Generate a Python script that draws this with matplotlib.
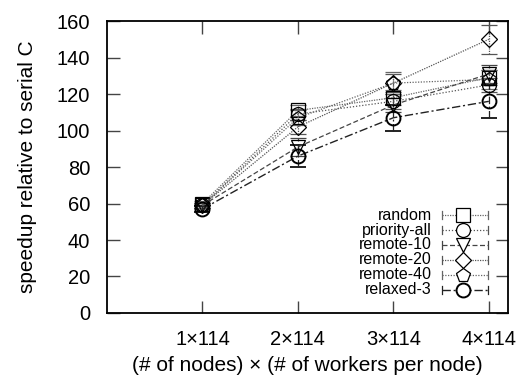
import matplotlib
matplotlib.use("Agg")
import matplotlib.pyplot as plt
import numpy as np

plt.rcParams['font.family'] = ['Liberation Sans', 'DejaVu Sans']

x_pos = [1, 2, 3, 4]
x_labels = ["1×114", "2×114", "3×114", "4×114"]

names = ["random", "priority-all", "remote-10", "remote-20", "remote-40", "relaxed-3"]
random_v = [60, 111, 118, 129]
priority_all = [59, 109, 116, 125]
remote_10 = [59, 91, 114, 131]
remote_20 = [59, 102, 126, 150]
remote_40 = [59, 107, 126, 128]
relaxed_3 = [57, 86, 107, 116]

random_e = [1.5, 3, 4, 4]
priority_all_e = [1.5, 3, 4, 4]
remote_10_e = [1.5, 5, 4, 5]
remote_20_e = [1.5, 4, 5, 8]
remote_40_e = [1.5, 4, 6, 5]
relaxed_3_e = [1.5, 6, 7, 9]

values = [random_v, priority_all, remote_10, remote_20, remote_40, relaxed_3]
errors = [random_e, priority_all_e, remote_10_e, remote_20_e, remote_40_e, relaxed_3_e]

markers = ['s', 'o', 'v', 'D', 'p', 'o']
msizes = [10, 10, 10, 8, 10, 10]
mews = [0.9, 0.9, 0.9, 0.9, 0.9, 1.4]
lstyles = [(0, (1, 1)), (0, (1, 1.5)), (0, (4, 2)), (0, (1, 1)), (0, (1, 1.2)), (0, (6, 2, 1.5, 2))]
lcolors = ['#666666', '#555555', '#444444', '#555555', '#666666', '#222222']
lws = [0.9, 0.9, 0.9, 0.9, 0.9, 1.0]

fig = plt.figure(figsize=(5.22, 3.76), dpi=100)
ax = fig.add_axes([0.205, 0.1676, 0.768, 0.7764])

for i in range(6):
    eb = ax.errorbar(x_pos, values[i], yerr=errors[i], color=lcolors[i], lw=lws[i],
                     ls=lstyles[i], marker=markers[i], ms=msizes[i], mfc='none',
                     mec='black', mew=mews[i], capsize=6, elinewidth=0.9,
                     ecolor=lcolors[i], zorder=3)
    for bar in eb[2]:
        bar.set_linestyle(lstyles[i])

ax.set_xlim(0, 4.2)
ax.set_ylim(0, 160)
ax.set_xticks(x_pos)
ax.set_xticklabels(x_labels)
ax.set_yticks(np.arange(0, 161, 20))
ax.tick_params(direction='in', length=9, width=1, color='#444444', top=True, right=True,
               labelsize=14.5)
ax.tick_params(axis='x', pad=12)
ax.tick_params(axis='y', pad=12)
for s in ax.spines.values():
    s.set_linewidth(1.3)

ax.set_ylabel("speedup relative to serial C", fontsize=15, labelpad=14)
ax.set_xlabel("(# of nodes) × (# of workers per node)", fontsize=15, labelpad=5)

# legend drawn gnuplot style
W, H = 401.0, 292.0
def ax_x(px):
    return (px - 107) / W
def ax_y(py):
    return (313 - py) / H
rows = [215, 230, 245, 260, 275, 290]
for i in range(6):
    yy = ax_y(rows[i])
    ax.text(ax_x(432), yy, names[i], transform=ax.transAxes, ha='right', va='center', fontsize=11.5)
    ax.plot([ax_x(442), ax_x(488)], [yy, yy], transform=ax.transAxes, color=lcolors[i],
            ls=lstyles[i], lw=lws[i])
    for cx in (442, 488):
        ax.plot([ax_x(cx), ax_x(cx)], [yy - 4 / H, yy + 4 / H], transform=ax.transAxes,
                color=lcolors[i], lw=0.9)
    ax.plot([ax_x(463)], [yy], transform=ax.transAxes, marker=markers[i], ms=msizes[i],
            mfc='white', mec='black', mew=mews[i])

fig.savefig("out.png", dpi=100)
